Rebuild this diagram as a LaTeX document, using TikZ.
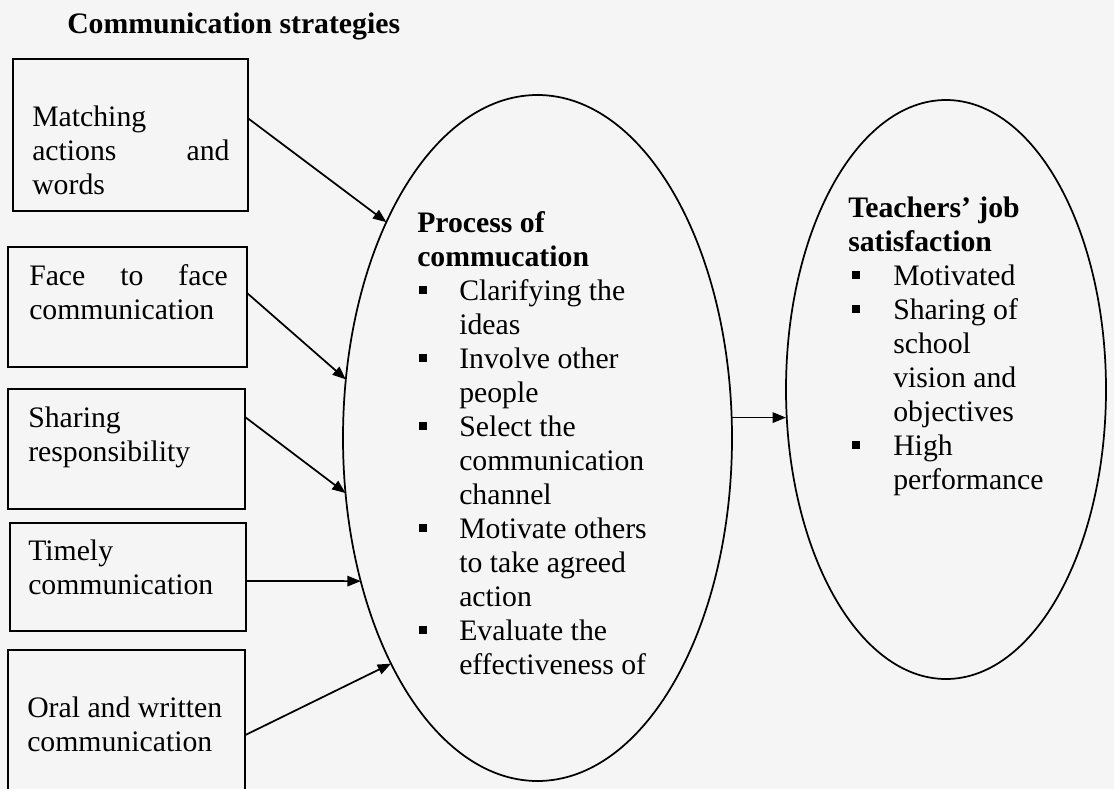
\documentclass[tikz,border=0pt]{standalone}
\usepackage{fontspec}
\setmainfont{Liberation Serif}
\usetikzlibrary{shapes.geometric}
\usetikzlibrary{calc}
\usetikzlibrary{arrows.meta}

\newcommand{\sqbul}[2]{\makebox[#1][l]{\hspace*{#2}\rule[4.5pt]{6pt}{6pt}}}

\tikzset{
  stratbox/.style 2 args={draw, rectangle, line width=1.4pt, minimum width=#1*0.75pt,
    minimum height=#2*0.75pt, anchor=north west, inner sep=0pt, outer sep=0pt},
  bubble/.style 2 args={draw, ellipse, line width=1.3pt, minimum width=#1*0.75pt,
    minimum height=#2*0.75pt, inner sep=0pt, outer sep=0pt},
  txt/.style={font=\fontsize{22.3}{25.5}\selectfont, inner sep=0pt, align=flush left,
    anchor=base west, text width=150pt},
  arr/.style={line width=1.3pt, -{Triangle[length=10pt,width=7.8pt]}}
}

\begin{document}
\begin{tikzpicture}[x=0.75pt,y=0.75pt,yscale=-1,xscale=1]
\path[use as bounding box, clip] (0,0) rectangle (1114,789);
\fill[white!96!black] (0,0) rectangle (1114,789);

% Title
\node[txt, text width=260pt, font=\fontsize{22.3}{25.5}\selectfont\bfseries] (title) at (67,33) {Communication strategies};

%Shape: boxes on the left
\node[stratbox={235}{152}] (matching) at (13,59) {};
\node[stratbox={239}{120}] (face) at (8,247) {};
\node[stratbox={237}{120}] (sharing) at (8,389) {};
\node[stratbox={236}{108}] (timely) at (10,523) {};
\node[stratbox={237}{142}] (oral) at (8,650) {};

% Text Node
\node[txt, text width=148pt] (matchingtxt) at (32,126) {Matching\\ actions\hfill and\\ words};
\node[txt, text width=149pt] (facetxt) at (29,285) {Face\hfill to\hfill face\\ communication};
\node[txt] (sharingtxt) at (28,427) {Sharing\\ responsibility};
\node[txt] (timelytxt) at (28,560) {Timely\\ communication};
\node[txt] (oraltxt) at (27,717) {Oral and written\\ communication};

%Shape: Ellipses
\node[bubble={389}{686}] (proc) at (537.5,438) {};
\node[bubble={320}{579}] (satis) at (946,389.5) {};

% Text Node
\node[txt, text width=190pt] (proctxt) at (417,232) {\textbf{Process of}\\
  \textbf{commucation}\\
  \sqbul{31.5pt}{1pt}Clarifying the\\
  \hspace*{31.5pt}ideas\\
  \sqbul{31.5pt}{1pt}Involve other\\
  \hspace*{31.5pt}people\\
  \sqbul{31.5pt}{1pt}Select the\\
  \hspace*{31.5pt}communication\\
  \hspace*{31.5pt}channel\\
  \sqbul{31.5pt}{1pt}Motivate others\\
  \hspace*{31.5pt}to take agreed\\
  \hspace*{31.5pt}action\\
  \sqbul{31.5pt}{1pt}Evaluate the\\
  \hspace*{31.5pt}effectiveness of};
\node[txt, text width=170pt] (satistxt) at (848,217) {\textbf{Teachers' job}\\
  \textbf{satisfaction}\\
  \sqbul{33.75pt}{3pt}Motivated\\
  \sqbul{33.75pt}{3pt}Sharing of\\
  \hspace*{33.75pt}school\\
  \hspace*{33.75pt}vision and\\
  \hspace*{33.75pt}objectives\\
  \sqbul{33.75pt}{3pt}High\\
  \hspace*{33.75pt}performance};

%Straight Lines: arrows into the process
\draw[arr] ($(matching.north east)!0.39!(matching.south east)$) -- (proc.125.2);
\draw[arr] ($(face.north east)!0.383!(face.south east)$) -- (proc.163.7);
\draw[arr] ($(sharing.north east)!0.233!(sharing.south east)$) -- (proc.196.5);
\draw[arr] ($(timely.north east)!0.537!(timely.south east)$) -- (proc.219);
\draw[arr] ($(oral.north east)!0.6!(oral.south east)$) -- (proc.237.7);
\draw[arr] (proc.6.47) -- (proc.6.47 -| satis.west);

\end{tikzpicture}
\end{document}
